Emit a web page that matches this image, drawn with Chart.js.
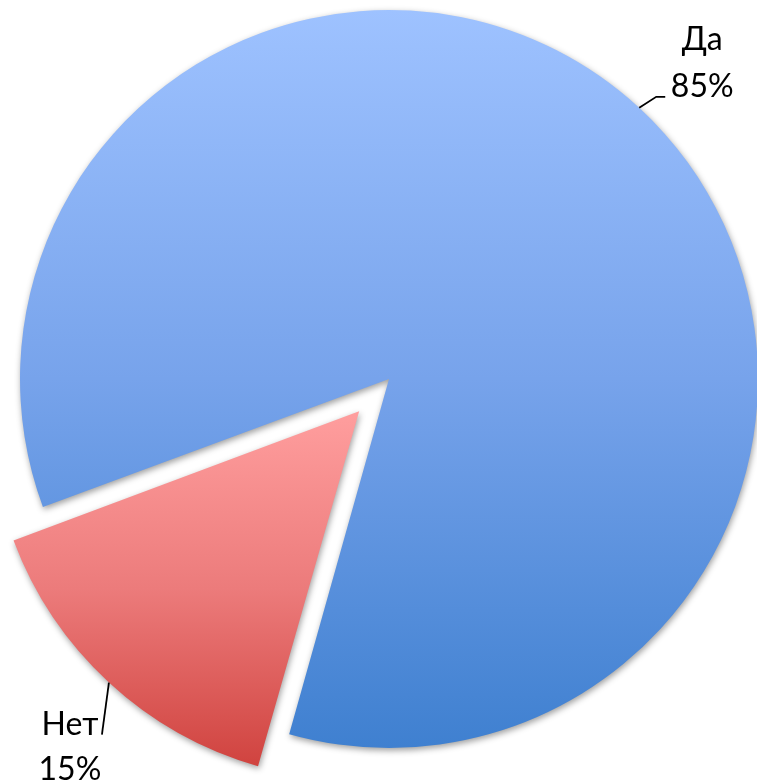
<!DOCTYPE html>
<html>
<head>
<meta charset="utf-8">
<script src="https://cdn.jsdelivr.net/npm/chart.js@4/dist/chart.umd.min.js"></script>
<style>
html,body{margin:0;padding:0;background:#fff;overflow:hidden}
#wrap{width:757px;height:784px;position:relative}
</style>
</head>
<body>
<div id="wrap"><canvas id="c"></canvas></div>
<script>
// ---- data ----
const categories = ['Да', 'Нет'];
const values = [85, 15];
const percentLabels = ['85%', '15%'];

// ---- styles ----
const gradientStops = [
  ['#9EC2FF', '#77A3EB', '#3F80D0'],
  ['#FF9E9E', '#EC7B7B', '#D0433F']
];
const explode = [0, 176];           // Chart.js arc offset (translation = offset/4)
const labelLayout = [
  { leader: [[0,0],[17,-11],[26,-11]], textX: 63, lines: [-58, -11] },
  { leader: [[0,0],[-7,52]],           textX: -39, lines: [52, 97] }
];
const FONT = '32px Lato, "Open Sans", sans-serif';

function sectorYBounds(cy, r, a0, a1) {
  let ys = [cy, cy + r * Math.sin(a0), cy + r * Math.sin(a1)];
  const TAU = Math.PI * 2;
  for (const c of [Math.PI / 2, -Math.PI / 2, 3 * Math.PI / 2, 5 * Math.PI / 2]) {
    let a = c;
    while (a < a0) a += TAU;
    if (a <= a1) ys.push(cy + r * Math.sin(c));
  }
  return [Math.min(...ys), Math.max(...ys)];
}

const piePlugin = {
  id: 'pieStyle',
  beforeDatasetsDraw(chart) {
    const ctx = chart.ctx;
    const meta = chart.getDatasetMeta(0);
    const baseR = meta.controller.outerRadius;
    meta.data.forEach((arc, i) => {
      const off = (explode[i] || 0) / 4;
      const circ = arc.endAngle - arc.startAngle;
      const fix = 1 - Math.sin(Math.min(Math.PI, circ));
      arc.outerRadius = baseR - off * fix;
      const mid = (arc.startAngle + arc.endAngle) / 2;
      const cy = arc.y + Math.sin(mid) * off;
      const [y0, y1] = sectorYBounds(cy, baseR, arc.startAngle, arc.endAngle);
      const ty = Math.sin(mid) * off;
      const g = ctx.createLinearGradient(0, y0 - ty, 0, y1 - ty);
      const st = gradientStops[i];
      g.addColorStop(0, st[0]);
      g.addColorStop(0.5, st[1]);
      g.addColorStop(1, st[2]);
      arc.options.backgroundColor = g;
    });
    ctx.save();
    ctx.shadowColor = 'rgba(0,0,0,0.38)';
    ctx.shadowBlur = 6;
    ctx.shadowOffsetX = 1;
    ctx.shadowOffsetY = 2.5;
  },
  afterDatasetsDraw(chart) {
    const ctx = chart.ctx;
    ctx.restore();
    const meta = chart.getDatasetMeta(0);
    const baseR = meta.controller.outerRadius;
    meta.data.forEach((arc, i) => {
      const off = (explode[i] || 0) / 4;
      const mid = (arc.startAngle + arc.endAngle) / 2;
      const cx = arc.x + Math.cos(mid) * off;
      const cy = arc.y + Math.sin(mid) * off;
      const px = cx + Math.cos(mid) * baseR;
      const py = cy + Math.sin(mid) * baseR;
      const L = labelLayout[i];
      ctx.save();
      ctx.strokeStyle = '#000';
      ctx.lineWidth = 1.8;
      ctx.beginPath();
      L.leader.forEach(([dx, dy], k) => {
        if (k === 0) ctx.moveTo(px + dx, py + dy); else ctx.lineTo(px + dx, py + dy);
      });
      ctx.stroke();
      ctx.fillStyle = '#000';
      ctx.font = FONT;
      ctx.textAlign = 'center';
      ctx.textBaseline = 'alphabetic';
      ctx.fillText(categories[i], px + L.textX, py + L.lines[0]);
      ctx.fillText(percentLabels[i], px + L.textX, py + L.lines[1]);
      ctx.restore();
    });
  }
};

new Chart(document.getElementById('c'), {
  type: 'pie',
  data: {
    labels: categories,
    datasets: [{
      data: values,
      backgroundColor: gradientStops.map(s => s[1]),
      borderWidth: 0,
      offset: explode,
      hoverOffset: 0,
      clip: false
    }]
  },
  options: {
    responsive: true,
    maintainAspectRatio: false,
    animation: false,
    events: [],
    rotation: 249.7,
    radius: 369,
    layout: { padding: { left: 21, right: 0, top: 0, bottom: 26 } },
    plugins: { legend: { display: false }, tooltip: { enabled: false } }
  },
  plugins: [piePlugin]
});
</script>
</body>
</html>
